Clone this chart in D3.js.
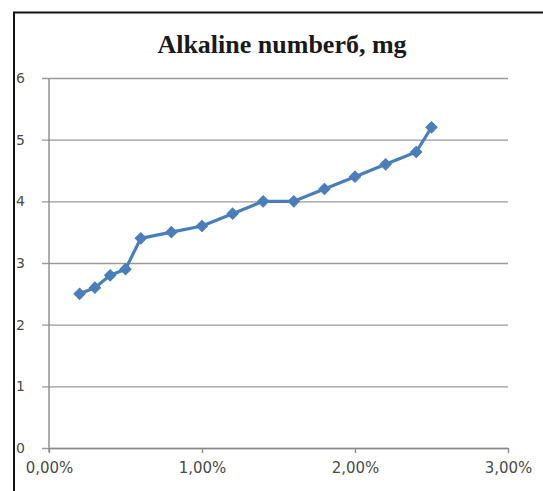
<!DOCTYPE html>
<html>
<head>
<meta charset="utf-8">
<script src="https://cdn.jsdelivr.net/npm/d3@7"></script>
<style>
  html, body { margin: 0; padding: 0; background: #fff; }
  svg { display: block; }
</style>
</head>
<body>
<svg id="chart" width="543" height="491"></svg>
<script>
// Additive concentration (%) and the alkaline number measured at each one
const concentration = [0.2, 0.3, 0.4, 0.5, 0.6, 0.8, 1.0, 1.2, 1.4, 1.6, 1.8, 2.0, 2.2, 2.4, 2.5];
const alkalineNumber = [2.5, 2.6, 2.8, 2.9, 3.4, 3.5, 3.6, 3.8, 4.0, 4.0, 4.2, 4.4, 4.6, 4.8, 5.2];
const xTicks = [0, 1, 2, 3];
const yTicks = [0, 1, 2, 3, 4, 5, 6];
const titleText = "Alkaline numberб, mg";

const points = concentration.map((c, i) => ({ x: c, y: alkalineNumber[i] }));

const svg = d3.select("#chart");

const x = d3.scaleLinear().domain([0, 3]).range([49, 508]);
const y = d3.scaleLinear().domain([0, 6]).range([448, 78]);

// frame edges
svg.append("line").attr("x1", 14).attr("x2", 14).attr("y1", 12).attr("y2", 491)
  .attr("stroke", "#111").attr("stroke-width", 2);
svg.append("line").attr("x1", 13).attr("x2", 543).attr("y1", 12.5).attr("y2", 12.5)
  .attr("stroke", "#111").attr("stroke-width", 2);

// title
svg.append("text")
  .attr("x", 282).attr("y", 53)
  .attr("text-anchor", "middle")
  .attr("font-family", "'Liberation Serif', 'Times New Roman', serif")
  .attr("font-weight", "bold")
  .attr("font-size", 26)
  .attr("fill", "#1a1a1a")
  .text(titleText);

// horizontal gridlines with left tick stubs
const yAxis = d3.axisLeft(y).tickValues(yTicks).tickSize(-(508 - 49)).tickFormat("");
const gy = svg.append("g").attr("transform", "translate(49,0)").call(yAxis);
gy.select(".domain").remove();
gy.selectAll(".tick line").attr("stroke", "#9a9a9a").attr("stroke-width", 1.4)
  .attr("x1", -7);

// vertical axis line
svg.append("line").attr("x1", x(0)).attr("x2", x(0)).attr("y1", y(6)).attr("y2", y(0) + 4)
  .attr("stroke", "#8a8a8a").attr("stroke-width", 1.4);

// y tick labels
svg.append("g").selectAll("text").data(yTicks).join("text")
  .attr("x", 16).attr("y", d => y(d) + 5)
  .attr("font-family", "'DejaVu Sans', sans-serif")
  .attr("font-size", 14)
  .attr("fill", "#4a4a4a")
  .text(d => d);

// x axis
const xAxis = d3.axisBottom(x).tickValues(xTicks).tickSize(5).tickSizeOuter(0)
  .tickFormat(d => d3.format(".2f")(d).replace(".", ",") + "%");
const gx = svg.append("g").attr("transform", `translate(0,${y(0)})`).call(xAxis);
gx.select(".domain").attr("stroke", "#8a8a8a").attr("stroke-width", 1.4);
gx.selectAll(".tick line").attr("stroke", "#8a8a8a").attr("stroke-width", 1.4);
gx.selectAll(".tick text")
  .attr("y", 14).attr("dy", "0.71em")
  .attr("font-family", "'DejaVu Sans', sans-serif")
  .attr("font-size", 15)
  .attr("fill", "#4a4a4a");

// series line
const line = d3.line().x(d => x(d.x)).y(d => y(d.y));
svg.append("path").datum(points)
  .attr("d", line)
  .attr("fill", "none")
  .attr("stroke", "#4a7ebb")
  .attr("stroke-width", 3.2)
  .attr("stroke-linejoin", "round");

// diamond markers: squares turned 45 degrees
const marker = d3.symbol().type(d3.symbolSquare).size(64);
svg.append("g").selectAll("path").data(points).join("path")
  .attr("transform", d => `translate(${x(d.x)},${y(d.y)}) rotate(45)`)
  .attr("d", marker)
  .attr("fill", "#4a7ebb")
  .attr("stroke", "#4a7ebb")
  .attr("stroke-width", 1);
</script>
</body>
</html>
